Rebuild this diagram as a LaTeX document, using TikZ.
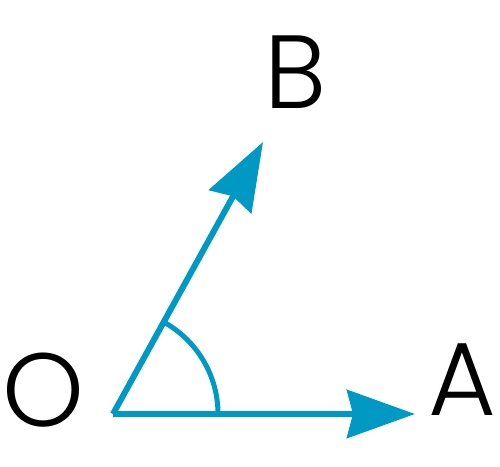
\documentclass[tikz,border=0pt]{standalone}
\usepackage{fontspec}
\setmainfont{Poppins}[UprightFont=* Light]
\usetikzlibrary{arrows.meta, calc}
\definecolor{vecblue}{RGB}{0,153,196}

\begin{document}
\begin{tikzpicture}[
  x=1pt, y=1pt,
  vec/.style={draw=vecblue, line width=6pt, -{Stealth[length=68pt, width=48pt, inset=6pt]}},
  angarc/.style={draw=vecblue, line width=5pt},
  lbl/.style={inner sep=0pt, font=\fontsize{104}{104}\selectfont}
]
\useasboundingbox (0,0) rectangle (500,466);
% vertex and tips
\coordinate (o) at (113,52);
\coordinate (a) at (415,52);
\coordinate (b) at (263,324);
% labels
\node[lbl] (O) at (43,76) {O};
\node[lbl] (A) at (462,86) {A};
\node[lbl] (B) at (296,394) {B};
% angle mark
\draw[angarc] ($(o)+(105,0)$) arc[start angle=0, end angle=61, radius=105];
% vectors
\draw[vec] (o) -- (a);
\draw[vec] (o) -- (b);
\end{tikzpicture}
\end{document}
